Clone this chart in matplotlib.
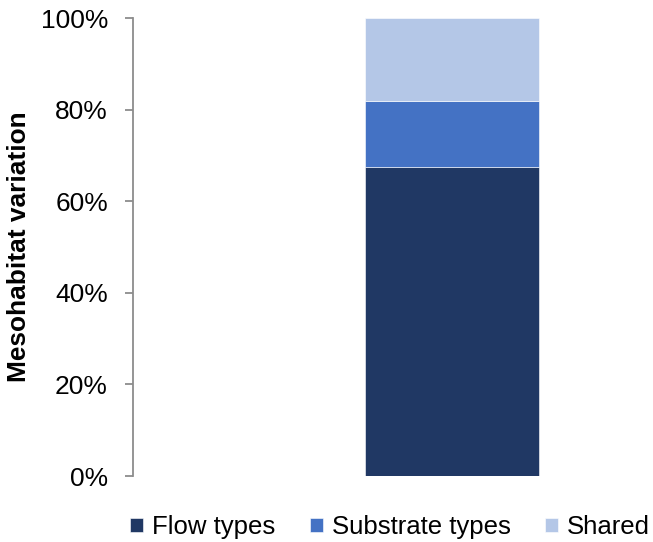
import matplotlib
matplotlib.use("Agg")
import matplotlib.pyplot as plt
from matplotlib.ticker import PercentFormatter

# Data (share of mesohabitat variation, %)
components = ["Flow types", "Substrate types", "Shared"]
shares = [67.5, 14.4, 18.1]
colors = ["#203864", "#4472C4", "#B4C7E7"]

plt.rcParams["font.family"] = ["Liberation Sans", "DejaVu Sans"]

fig = plt.figure(figsize=(6.53, 5.42), dpi=100)
ax = fig.add_axes([133 / 653, 1 - 476 / 542, 500 / 653, 458 / 542])

bottom = 0
for name, val, c in zip(components, shares, colors):
    ax.bar(0.464, val, width=0.348, bottom=bottom, align="edge",
           color=c, edgecolor="white", linewidth=0.4, label=name)
    bottom += val

ax.set_xlim(0, 1)
ax.set_ylim(0, 100)
ax.set_yticks([0, 20, 40, 60, 80, 100])
ax.yaxis.set_major_formatter(PercentFormatter(decimals=0))
ax.set_xticks([])

for s in ["top", "right", "bottom"]:
    ax.spines[s].set_visible(False)
ax.spines["left"].set_color("#8c8c8c")
ax.spines["left"].set_linewidth(1.3)
ax.tick_params(axis="y", direction="out", length=6, width=1.3,
               color="#8c8c8c", labelsize=19, pad=12)

ax.set_ylabel("Mesohabitat variation", fontsize=18.9, fontweight="bold")
ax.yaxis.set_label_coords(-0.204, 0.5)

ax.legend(loc="upper center", bbox_to_anchor=(0.514, -0.035), ncol=3,
          frameon=False, fontsize=18.5, handlelength=0.5, handleheight=0.5,
          handletextpad=0.35, columnspacing=1.35)

plt.savefig("out.png", dpi=100)
